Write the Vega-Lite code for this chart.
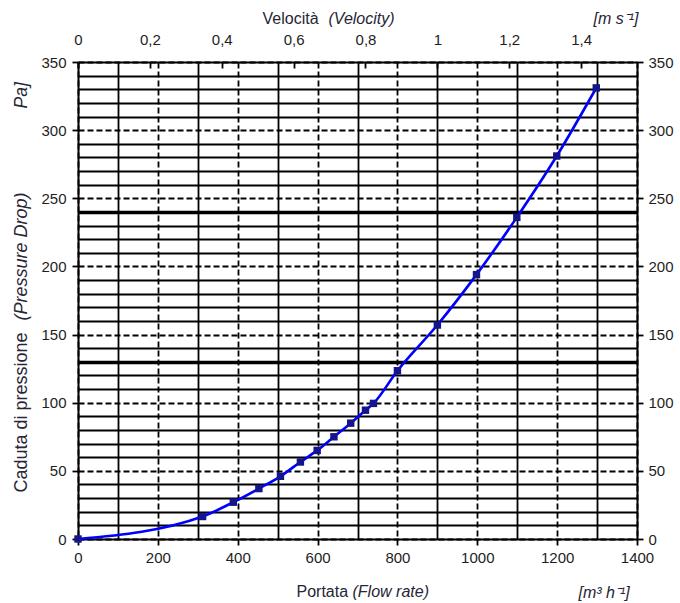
{
  "$schema": "https://vega.github.io/schema/vega-lite/v6.json",
  "width": 559,
  "height": 477,
  "autosize": {"type": "none"},
  "padding": {"left": 78, "top": 62, "right": 43, "bottom": 64},
  "background": "white",
  "config": {
    "view": {"stroke": null},
    "font": "Liberation Sans",
    "axis": {
      "labelFont": "Liberation Sans",
      "titleFont": "Liberation Sans",
      "labelFontSize": 15,
      "titleFontSize": 16,
      "labelColor": "#1e1e1e",
      "titleColor": "#262636",
      "titleFontWeight": "normal",
      "domainColor": "#000000",
      "tickColor": "#000000",
      "gridColor": "#000000",
      "gridOpacity": 1,
      "domainWidth": 2,
      "tickWidth": 1.8,
      "gridWidth": 1.8,
      "tickSize": 6,
      "labelFlush": false,
      "labelOverlap": false
    }
  },
  "data": {
    "values": [
      {"flow": 0, "pressure": 0},
      {"flow": 312, "pressure": 16.5},
      {"flow": 389, "pressure": 27},
      {"flow": 453, "pressure": 37},
      {"flow": 507, "pressure": 46},
      {"flow": 557, "pressure": 56.5},
      {"flow": 599, "pressure": 65},
      {"flow": 641, "pressure": 75},
      {"flow": 683, "pressure": 85},
      {"flow": 720, "pressure": 94.5},
      {"flow": 740, "pressure": 99.5},
      {"flow": 800, "pressure": 123.5},
      {"flow": 900, "pressure": 157},
      {"flow": 998, "pressure": 194},
      {"flow": 1099, "pressure": 236},
      {"flow": 1199, "pressure": 281},
      {"flow": 1298, "pressure": 331}
    ]
  },
  "resolve": {"axis": {"x": "independent", "y": "independent"}},
  "layer": [
    {
      "mark": {"type": "point", "opacity": 0},
      "encoding": {
        "x": {"field": "flow", "type": "quantitative", "scale": {"domain": [0, 1400], "nice": false},
          "axis": {"orient": "bottom", "values": [100, 300, 500, 700, 900, 1100, 1300], "grid": true, "labels": false, "ticks": false, "domain": false,
            "title": "(Flow rate)", "titleFontStyle": "italic", "titleX": 274, "titleY": 52, "titleAlign": "left", "titleBaseline": "middle"}},
        "y": {"field": "pressure", "type": "quantitative", "scale": {"domain": [0, 350], "nice": false},
          "axis": {"orient": "left", "values": [10, 20, 30, 40, 60, 70, 80, 90, 110, 120, 130, 140, 160, 170, 180, 190, 210, 220, 230, 240, 260, 270, 280, 290, 310, 320, 330, 340],
            "grid": true, "labels": false, "ticks": false, "domain": false,
            "title": "(Pressure Drop)", "titleFontStyle": "italic", "titleFontSize": 18, "titleX": -57, "titleY": 258, "titleAngle": -90, "titleAlign": "left", "titleBaseline": "middle"}}
      }
    },
    {
      "mark": {"type": "point", "opacity": 0},
      "encoding": {
        "x": {"field": "flow", "type": "quantitative", "scale": {"domain": [0, 1400], "nice": false},
          "axis": {"orient": "top", "grid": false, "labels": false, "ticks": false, "domain": false,
            "title": "(Velocity)", "titleFontStyle": "italic", "titleX": 250, "titleY": -44, "titleAlign": "left", "titleBaseline": "middle"}},
        "y": {"field": "pressure", "type": "quantitative", "scale": {"domain": [0, 350], "nice": false},
          "axis": {"orient": "left", "values": [130, 240], "grid": true, "gridWidth": 3.5, "labels": false, "ticks": false, "domain": false,
            "title": "Pa]", "titleFontStyle": "italic", "titleFontSize": 17.5, "titleX": -57, "titleY": 46, "titleAngle": -90, "titleAlign": "left", "titleBaseline": "middle"}}
      }
    },
    {
      "mark": {"type": "point", "opacity": 0},
      "encoding": {
        "x": {"field": "flow", "type": "quantitative", "scale": {"domain": [0, 1400], "nice": false},
          "axis": {"orient": "bottom", "grid": false, "labels": false, "ticks": false, "domain": false,
            "title": "[m³ h⁻¹]", "titleFontStyle": "italic", "titleX": 500, "titleY": 53, "titleAlign": "left", "titleBaseline": "middle"}},
        "y": {"field": "pressure", "type": "quantitative", "scale": {"domain": [0, 350], "nice": false}, "axis": null}
      }
    },
    {
      "mark": {"type": "point", "opacity": 0},
      "encoding": {
        "x": {"field": "flow", "type": "quantitative", "scale": {"domain": [0, 1400], "nice": false},
          "axis": {"orient": "top", "grid": false, "labels": false, "ticks": false, "domain": false,
            "title": "[m s⁻¹]", "titleFontStyle": "italic", "titleX": 515, "titleY": -44, "titleAlign": "left", "titleBaseline": "middle"}},
        "y": {"field": "pressure", "type": "quantitative", "scale": {"domain": [0, 350], "nice": false}, "axis": null}
      }
    },
    {
      "mark": {"type": "line", "interpolate": "monotone", "color": "#0000ff", "strokeWidth": 2.6},
      "encoding": {
        "x": {"field": "flow", "type": "quantitative", "scale": {"domain": [0, 1400], "nice": false},
          "axis": {"orient": "bottom", "values": [0, 200, 400, 600, 800, 1000, 1200, 1400], "format": "d", "grid": true, "gridDash": [6, 3], "labelPadding": 5,
            "title": "Portata", "titleX": 218, "titleY": 52, "titleAlign": "left", "titleBaseline": "middle"}},
        "y": {"field": "pressure", "type": "quantitative", "scale": {"domain": [0, 350], "nice": false},
          "axis": {"orient": "left", "values": [0, 50, 100, 150, 200, 250, 300, 350], "grid": true, "gridDash": [6, 3], "labelPadding": 6,
            "title": "Caduta di pressione", "titleFontSize": 18, "titleX": -57, "titleY": 430, "titleAngle": -90, "titleAlign": "left", "titleBaseline": "middle"}}
      }
    },
    {
      "mark": {"type": "point", "shape": "square", "filled": true, "color": "#14148c", "size": 55, "opacity": 1},
      "encoding": {
        "x": {"field": "flow", "type": "quantitative", "scale": {"domain": [0, 1400], "nice": false},
          "axis": {"orient": "top", "values": [0, 180, 360, 540, 720, 900, 1080, 1260], "labelExpr": "replace(format(datum.value / 900, '.1~f'), '.', ',')",
            "grid": false, "tickSize": -6, "labelPadding": 21,
            "title": "Velocità", "titleX": 184, "titleY": -44, "titleAlign": "left", "titleBaseline": "middle"}},
        "y": {"field": "pressure", "type": "quantitative", "scale": {"domain": [0, 350], "nice": false},
          "axis": {"orient": "right", "values": [0, 50, 100, 150, 200, 250, 300, 350], "grid": false, "labelPadding": 5, "title": null}}
      }
    }
  ]
}
